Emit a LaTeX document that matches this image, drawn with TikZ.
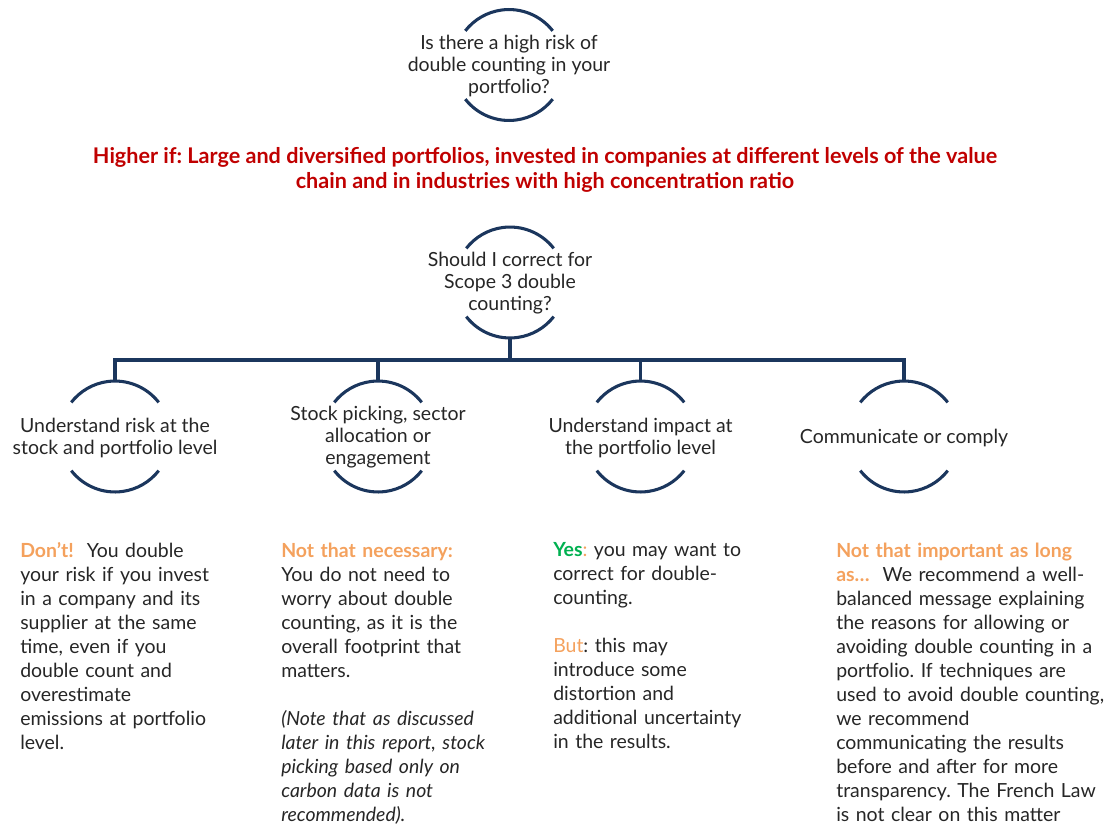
\documentclass[tikz,border=0pt]{standalone}
\usepackage{fontspec}
\setmainfont{Lato}
\frenchspacing
\definecolor{navy}{HTML}{1B365D}
\definecolor{txt}{HTML}{262626}
\definecolor{redtxt}{HTML}{C00000}
\definecolor{orng}{HTML}{F4A15D}
\definecolor{grn}{HTML}{00B050}
\newcommand{\ringarcs}[1]{%
  \draw[ring] (#1) ++(38:41.6pt) arc[start angle=38,end angle=142,radius=41.6pt];
  \draw[ring] (#1) ++(218:41.6pt) arc[start angle=218,end angle=322,radius=41.6pt];}
\tikzset{
  ring/.style={draw=navy,line width=2.3pt},
  conn/.style={draw=navy,line width=2.3pt,line join=miter},
  qtext/.style={align=center,inner sep=0pt,text=txt,font=\fontsize{14.6pt}{16.5pt}\selectfont},
  body/.style={align=left,text width=215pt,inner sep=0pt,anchor=north west,text=txt,
    font=\fontsize{14.6pt}{18pt}\selectfont},
  hint/.style={align=center,inner sep=0pt,text=redtxt,font=\bfseries\fontsize{16.2pt}{19pt}\selectfont}
}
\begin{document}
\begin{tikzpicture}[x=0.75pt,y=0.75pt]
\useasboundingbox (0,0) rectangle (1105,-824);
% ring centres
\coordinate (c0) at (509,-65);
\coordinate (c1) at (510,-282.5);
\coordinate (o1c) at (115,-436.5);
\coordinate (o2c) at (378,-436.5);
\coordinate (o3c) at (640.5,-436.5);
\coordinate (o4c) at (904,-436.5);
\foreach \c in {c0,c1,o1c,o2c,o3c,o4c}{\ringarcs{\c}}
% questions
\node[qtext] (q0) at (509,-66.5) {Is there a high risk of\\double counting in your\\portfolio?};
\node[hint] (h) at (545,-170) {Higher if: Large and diversified portfolios, invested in companies at different levels of the value\\chain and in industries with high concentration ratio};
\node[qtext] (q1) at (510,-283) {Should I correct for\\Scope 3 double\\counting?};
\node[qtext] (o1) at (115,-438) {Understand risk at the\\stock and portfolio level};
\node[qtext] (o2) at (378,-437) {Stock picking, sector\\allocation or\\engagement};
\node[qtext] (o3) at (640.5,-438) {Understand impact at\\the portfolio level};
\node[qtext] (o4) at (904,-438) {Communicate or comply};
% connectors
\coordinate (q1b) at (510,-338);
\coordinate (bar) at (510,-360);
\coordinate (o1t) at (115,-381);
\coordinate (o2t) at (378,-381);
\coordinate (o3t) at (640.5,-381);
\coordinate (o4t) at (904,-381);
\draw[conn] (q1b) -- (bar);
\draw[conn] (o1t) |- (bar);
\draw[conn] (o2t) |- (bar);
\draw[conn] (o3t) |- (bar);
\draw[conn] (o4t) |- (bar);
% body texts
\node[body] (b1) at (20,-542.5) {{\color{orng}\bfseries Don’t!}\ \ You double\\
your risk if you invest\\
in a company and its\\
supplier at the same\\
time, even if you\\
double count and\\
overestimate\\
emissions at portfolio\\
level.};
\node[body] (b2) at (281,-542.5) {{\color{orng}\bfseries Not that necessary:}\\
You do not need to\\
worry about double\\
counting, as it is the\\
overall footprint that\\
matters.\\[18pt]
\itshape (Note that as discussed\\
later in this report, stock\\
picking based only on\\
carbon data is not\\
recommended).};
\node[body] (b3) at (553,-542.5) {{\color{grn}\bfseries Yes}{\color{orng}:} you may want to\\
correct for double-\\
counting.\\[18pt]
{\color{orng}But}: this may\\
introduce some\\
distortion and\\
additional uncertainty\\
in the results.};
\node[body] (b4) at (836,-542.5) {{\color{orng}\bfseries Not that important as long}\\
{\color{orng}\bfseries as\ldots}\ \ We recommend a well-\\
balanced message explaining\\
the reasons for allowing or\\
avoiding double counting in a\\
portfolio. If techniques are\\
used to avoid double counting,\\
we recommend\\
communicating the results\\
before and after for more\\
transparency. The French Law\\
is not clear on this matter};
\end{tikzpicture}
\end{document}
